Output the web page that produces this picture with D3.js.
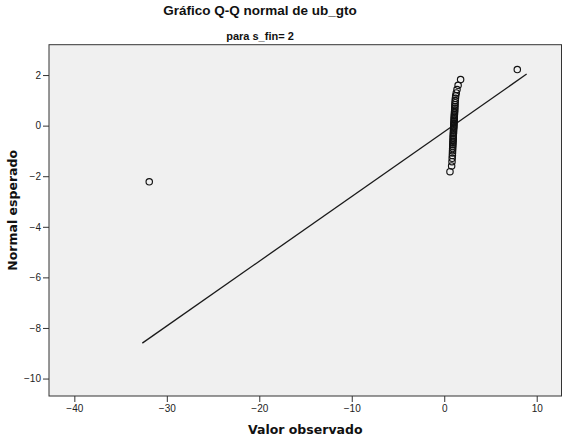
<!DOCTYPE html>
<html>
<head>
<meta charset="utf-8">
<script src="https://cdn.jsdelivr.net/npm/d3@7/dist/d3.min.js"></script>
<style>
  html, body { margin: 0; padding: 0; background: #fff; }
  svg { display: block; }
</style>
</head>
<body>
<svg id="chart" width="563" height="439"></svg>
<script>
// Observed values of ub_gto (s_fin = 2), sorted ascending
const observedValues = [
  -31.9, 0.62, 0.80, 0.84, 0.86, 0.88, 0.89, 0.90, 0.91, 0.92,
  0.93, 0.94, 0.95, 0.96, 0.97, 0.97, 0.98, 0.99, 1.00, 1.00,
  1.01, 1.02, 1.03, 1.04, 1.04, 1.05, 1.06, 1.07, 1.08, 1.08,
  1.09, 1.10, 1.11, 1.12, 1.13, 1.14, 1.15, 1.16, 1.17, 1.19,
  1.21, 1.24, 1.30, 1.38, 1.50, 1.77, 7.9
];
// Expected normal scores for the same ranks
const expectedNormal = [
  -2.219, -1.820, -1.593, -1.428, -1.293, -1.180, -1.079, -0.989, -0.905, -0.828,
  -0.756, -0.687, -0.621, -0.558, -0.497, -0.438, -0.380, -0.324, -0.268, -0.214,
  -0.160, -0.106, -0.053, 0.000, 0.053, 0.106, 0.160, 0.214, 0.268, 0.324,
  0.380, 0.438, 0.497, 0.558, 0.621, 0.687, 0.756, 0.828, 0.905, 0.989,
  1.079, 1.180, 1.293, 1.428, 1.593, 1.820, 2.219
];
// Reference line endpoints (observed, expected)
const refLineX = [-32.65, 8.91];
const refLineY = [-8.60, 2.04];

const xTicks = [-40, -30, -20, -10, 0, 10];
const yTicks = [2, 0, -2, -4, -6, -8, -10];
const xDomain = [-42.74, 12.68];
const yDomain = [-10.69, 3.20];

const titleText = "Gráfico Q-Q normal de ub_gto";
const subtitleText = "para s_fin= 2";
const xLabel = "Valor observado";
const yLabel = "Normal esperado";

const svg = d3.select("#chart");
const plot = { left: 49, top: 44.7, right: 561.5, bottom: 396 };

const x = d3.scaleLinear().domain(xDomain).range([plot.left, plot.right]);
const y = d3.scaleLinear().domain(yDomain).range([plot.bottom, plot.top]);

// Plot background
svg.append("rect")
  .attr("x", plot.left).attr("y", plot.top)
  .attr("width", plot.right - plot.left)
  .attr("height", plot.bottom - plot.top)
  .attr("fill", "#f0f0f0");

// Reference line
const lineData = refLineX.map((v, i) => [v, refLineY[i]]);
svg.append("path")
  .datum(lineData)
  .attr("d", d3.line().x(d => x(d[0])).y(d => y(d[1])))
  .attr("fill", "none")
  .attr("stroke", "#1a1a1a")
  .attr("stroke-width", 1.3);

// Points
const pts = observedValues.map((v, i) => ({ obs: v, exp: expectedNormal[i] }));
svg.append("g").selectAll("circle")
  .data(pts)
  .join("circle")
  .attr("cx", d => x(d.obs))
  .attr("cy", d => y(d.exp))
  .attr("r", 3.2)
  .attr("fill", "none")
  .attr("stroke", "#111")
  .attr("stroke-width", 1.15);

// Frame
svg.append("rect")
  .attr("x", plot.left).attr("y", plot.top)
  .attr("width", plot.right - plot.left)
  .attr("height", plot.bottom - plot.top)
  .attr("fill", "none")
  .attr("stroke", "#333")
  .attr("stroke-width", 1);

// Axes
const xAxis = d3.axisBottom(x).tickValues(xTicks).tickSize(6).tickSizeOuter(0)
  .tickFormat(d3.format("d"));
const gx = svg.append("g")
  .attr("transform", `translate(0,${plot.bottom})`)
  .call(xAxis);
gx.select(".domain").remove();

const yAxis = d3.axisLeft(y).tickValues(yTicks).tickSize(6).tickSizeOuter(0)
  .tickFormat(d3.format("d"));
const gy = svg.append("g")
  .attr("transform", `translate(${plot.left},0)`)
  .call(yAxis);
gy.select(".domain").remove();

[gx, gy].forEach(g => {
  g.selectAll(".tick line").attr("stroke", "#333");
  g.selectAll(".tick text")
    .attr("fill", "#222")
    .style("font-family", "'Liberation Sans', Arial, sans-serif")
    .style("font-size", "10px");
});
gy.selectAll(".tick text").attr("x", -8);

// Titles
svg.append("text")
  .attr("x", 260).attr("y", 15)
  .attr("text-anchor", "middle")
  .style("font-family", "'Liberation Sans', Arial, sans-serif")
  .style("font-weight", "bold")
  .style("font-size", "13.5px")
  .attr("fill", "#111")
  .text(titleText);

svg.append("text")
  .attr("x", 260).attr("y", 40)
  .attr("text-anchor", "middle")
  .style("font-family", "'Liberation Sans Narrow', 'Arial Narrow', sans-serif")
  .style("font-weight", "bold")
  .style("font-size", "11px")
  .attr("fill", "#111")
  .text(subtitleText);

svg.append("text")
  .attr("x", (plot.left + plot.right) / 2).attr("y", 434)
  .attr("text-anchor", "middle")
  .style("font-family", "'DejaVu Sans', Verdana, sans-serif")
  .style("font-weight", "bold")
  .style("font-size", "12.5px")
  .attr("fill", "#111")
  .text(xLabel);

svg.append("text")
  .attr("transform", `translate(17,${(plot.top + plot.bottom) / 2 - 10}) rotate(-90)`)
  .attr("text-anchor", "middle")
  .style("font-family", "'DejaVu Sans', Verdana, sans-serif")
  .style("font-weight", "bold")
  .style("font-size", "12.5px")
  .attr("fill", "#111")
  .text(yLabel);
</script>
</body>
</html>
